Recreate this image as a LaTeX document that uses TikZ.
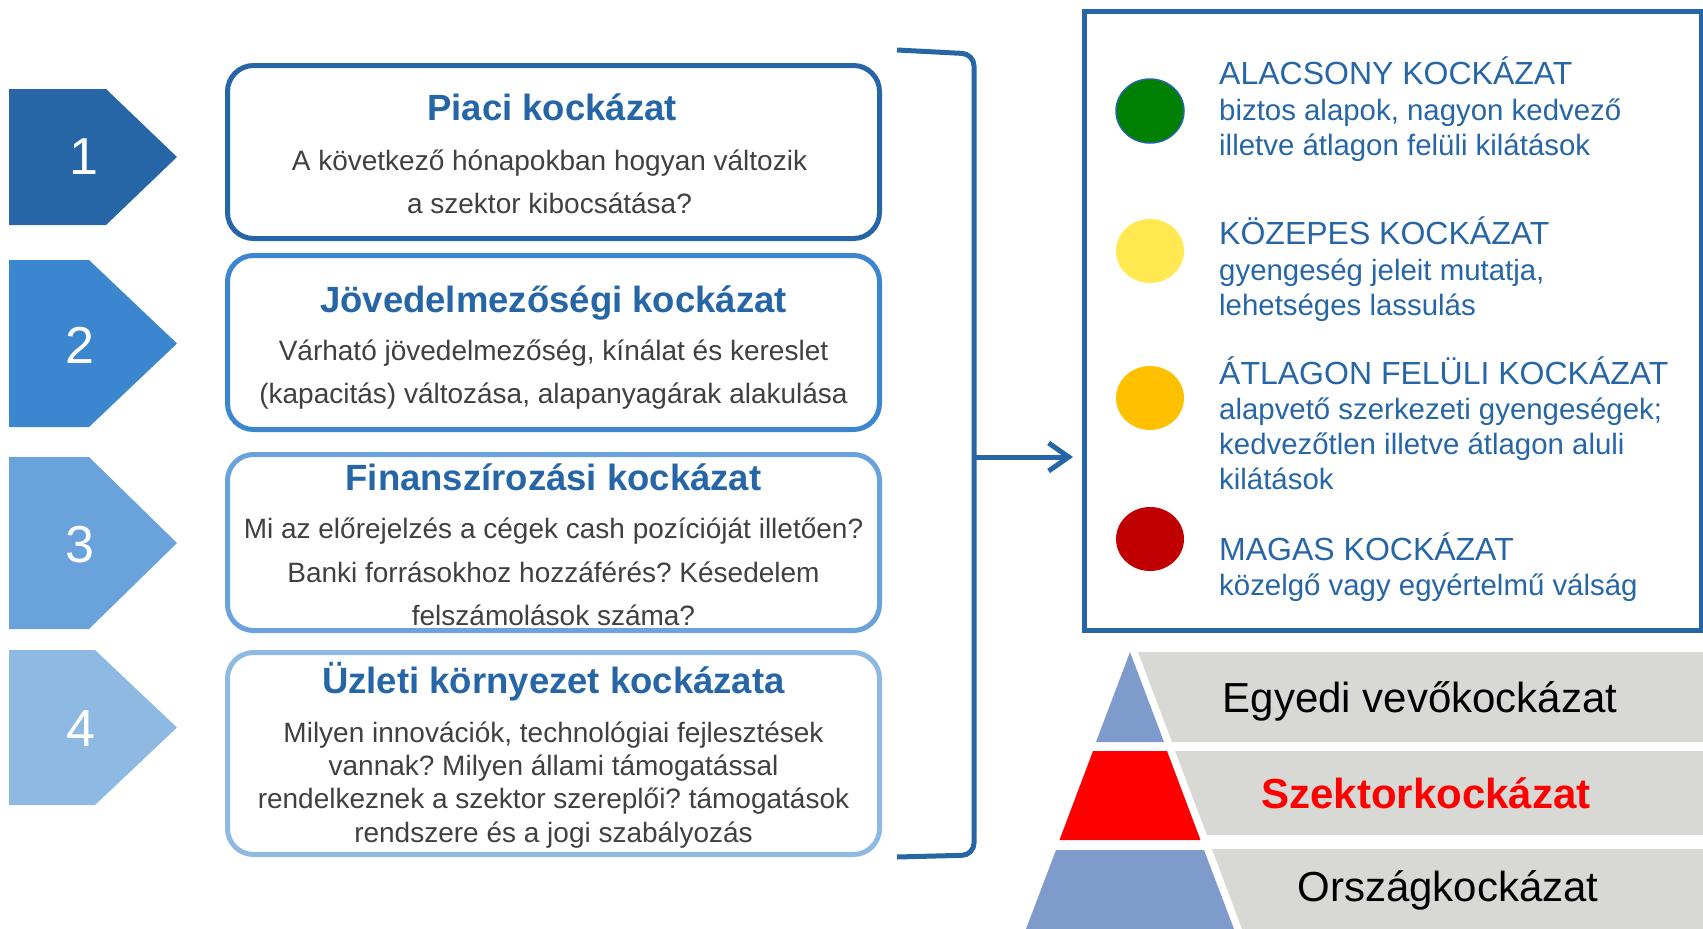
\documentclass[tikz,border=0pt]{standalone}
\usepackage{fontspec}
\setmainfont{Liberation Sans}
\usetikzlibrary{arrows.meta,shapes.geometric}
\definecolor{cA}{RGB}{38,102,166}
\definecolor{cB}{RGB}{60,134,208}
\definecolor{cC}{RGB}{106,162,219}
\definecolor{cD}{RGB}{141,185,227}
\definecolor{bodygray}{RGB}{64,64,64}
\definecolor{pgray}{RGB}{216,216,212}
\definecolor{pblue}{RGB}{127,155,203}
\definecolor{dgreen}{RGB}{0,128,0}
\definecolor{dyellow}{RGB}{255,232,80}
\definecolor{dorange}{RGB}{255,192,0}
\definecolor{dred}{RGB}{192,0,0}
\frenchspacing
\begin{document}
\begin{tikzpicture}[x=1pt,y=-1pt,
  rbox/.style={draw, line width=5pt, rounded corners=26pt, inner sep=0pt, fill=white},
  title/.style={anchor=base, text=cA, font=\fontsize{36.5}{40}\selectfont\bfseries, inner sep=0pt},
  body/.style={anchor=base, text=bodygray, font=\fontsize{28}{32}\selectfont, inner sep=0pt},
  num/.style={text=white, font=\fontsize{52}{56}\selectfont, inner sep=0pt},
  lhead/.style={anchor=base west, text=cA, font=\fontsize{32}{35}\selectfont, inner sep=0pt},
  lsub/.style={anchor=base west, text=cA, font=\fontsize{29.4}{33}\selectfont, inner sep=0pt},
  dot/.style={ellipse, minimum width=68pt, minimum height=64pt, inner sep=0pt},
  ptext/.style={anchor=base, font=\fontsize{42}{46}\selectfont, inner sep=0pt},
  arr/.style={draw=cA, line width=5pt, -{Straight Barb[length=20pt,width=28pt]}}
]
\useasboundingbox (0,0) rectangle (1703,929);

% chevrons
\fill[cA] (9,89) -- (106,89) -- (177,157) -- (106,225) -- (9,225) -- cycle;
\fill[cB] (9,260) -- (89,260) -- (177,343.5) -- (89,427) -- (9,427) -- cycle;
\fill[cC] (9,457) -- (89,457) -- (177,543) -- (89,629) -- (9,629) -- cycle;
\fill[cD] (9,650) -- (95,650) -- (177,727.5) -- (95,805) -- (9,805) -- cycle;
\node[num] (n1) at (84,157) {1};
\node[num] (n2) at (80,345) {2};
\node[num] (n3) at (80,545) {3};
\node[num] (n4) at (81,729) {4};

% boxes
\node[rbox, draw=cA, minimum width=652pt, minimum height=173pt] (box1) at (553.5,152) {};
\node[rbox, draw=cB, minimum width=652pt, minimum height=174pt] (box2) at (553.5,342.5) {};
\node[rbox, draw=cC, minimum width=652pt, minimum height=176pt] (box3) at (553.5,542.5) {};
\node[rbox, draw=cD, minimum width=652pt, minimum height=202pt] (box4) at (553.5,753.5) {};

\node[title] (t1) at (552,120) {Piaci kockázat};
\node[body] (b1a) at (549.5,170) {A következő hónapokban hogyan változik};
\node[body] (b1b) at (549.5,213) {a szektor kibocsátása?};

\node[title] (t2) at (553.5,312) {Jövedelmezőségi kockázat};
\node[body] (b2a) at (553.5,360) {Várható jövedelmezőség, kínálat és kereslet};
\node[body] (b2b) at (553.5,403) {(kapacitás) változása, alapanyagárak alakulása};

\node[title] (t3) at (553.5,490) {Finanszírozási kockázat};
\node[body] (b3a) at (553.5,538) {Mi az előrejelzés a cégek cash pozícióját illetően?};
\node[body] (b3b) at (553.5,582) {Banki forrásokhoz hozzáférés? Késedelem};
\node[body] (b3c) at (553.5,625) {felszámolások száma?};

\node[title] (t4) at (553.5,693) {Üzleti környezet kockázata};
\node[body] (b4a) at (553.5,742) {Milyen innovációk, technológiai fejlesztések};
\node[body] (b4b) at (553.5,775) {vannak? Milyen állami támogatással};
\node[body] (b4c) at (553.5,808) {rendelkeznek a szektor szereplői? támogatások};
\node[body] (b4d) at (553.5,842) {rendszere és a jogi szabályozás};

% bracket and arrow
\coordinate (brT) at (897,50);
\coordinate (brTR) at (974,54);
\coordinate (brBR) at (974,855);
\coordinate (brB) at (897,857);
\coordinate (brM) at (974,457);
\draw[cA, line width=5pt, rounded corners=12pt] (brT) -- (brTR) -- (brBR) -- (brB);

% legend box
\node[draw=cA, line width=5pt, minimum width=616.5pt, minimum height=619.5pt, inner sep=0pt] (legend) at (1392.75,320.75) {};
\draw[arr, shorten >=9pt] (brM) -- (brM -| legend.west);

\node[dot, fill=dgreen, draw=cA, line width=1.5pt] (d1) at (1150,111) {};
\node[dot, fill=dyellow] (d2) at (1150,251) {};
\node[dot, fill=dorange] (d3) at (1150,398) {};
\node[dot, fill=dred] (d4) at (1150,539) {};

\node[lhead] (h1) at (1219,84) {ALACSONY KOCKÁZAT};
\node[lsub] (s1a) at (1219,120) {biztos alapok, nagyon kedvező};
\node[lsub] (s1b) at (1219,155) {illetve átlagon felüli kilátások};
\node[lhead] (h2) at (1219,244) {KÖZEPES KOCKÁZAT};
\node[lsub] (s2a) at (1219,280) {gyengeség jeleit mutatja,};
\node[lsub] (s2b) at (1219,315) {lehetséges lassulás};
\node[lhead] (h3) at (1219,384) {ÁTLAGON FELÜLI KOCKÁZAT};
\node[lsub] (s3a) at (1219,419) {alapvető szerkezeti gyengeségek;};
\node[lsub] (s3b) at (1219,454) {kedvezőtlen illetve átlagon aluli};
\node[lsub] (s3c) at (1219,489) {kilátások};
\node[lhead] (h4) at (1219,560) {MAGAS KOCKÁZAT};
\node[lsub] (s4a) at (1219,595) {közelgő vagy egyértelmű válság};

% pyramid
\fill[pgray] (1138,652) -- (1703,652) -- (1703,742) -- (1172,742) -- cycle;
\fill[pgray] (1175,751) -- (1703,751) -- (1703,835) -- (1207,835) -- cycle;
\fill[pgray] (1212,849) -- (1703,849) -- (1703,929) -- (1242,929) -- cycle;
\fill[pblue] (1130,652) -- (1164,742) -- (1096,742) -- cycle;
\fill[red] (1093,751) -- (1167,751) -- (1200.5,840) -- (1059.5,840) -- cycle;
\fill[pblue] (1056,850) -- (1204,850) -- (1234,929) -- (1026,929) -- cycle;
\node[ptext] (p1) at (1420,712) {Egyedi vevőkockázat};
\node[ptext, text=red, font=\fontsize{42}{46}\selectfont\bfseries] (p2) at (1426,808) {Szektorkockázat};
\node[ptext] (p3) at (1448,901) {Országkockázat};
\end{tikzpicture}
\end{document}
